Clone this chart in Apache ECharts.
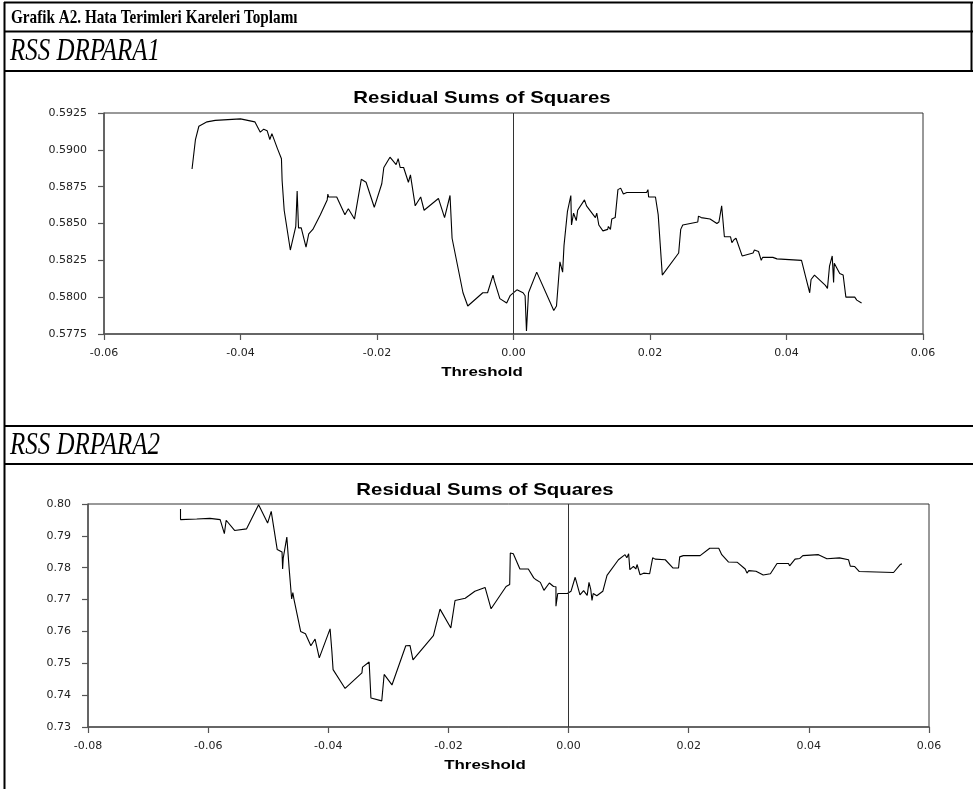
<!DOCTYPE html>
<html>
<head>
<meta charset="utf-8">
<script src="https://cdn.jsdelivr.net/npm/echarts@6/dist/echarts.min.js"></script>
<style>
html,body{margin:0;padding:0;background:#fff;}
#c{width:973px;height:789px;}
</style>
</head>
<body>
<div id="c"></div>
<script>
// ---------- Texts ----------
const pageTitle = 'Grafik A2. Hata Terimleri Kareleri Toplamı';
const panel1Title = 'RSS DRPARA1';
const panel2Title = 'RSS DRPARA2';
const chartTitle = 'Residual Sums of Squares';
const xName = 'Threshold';

// ---------- Tick values ----------
const topXTicks = [-0.06, -0.04, -0.02, 0.00, 0.02, 0.04, 0.06];
const topYTicks = [0.5775, 0.5800, 0.5825, 0.5850, 0.5875, 0.5900, 0.5925];
const botXTicks = [-0.08, -0.06, -0.04, -0.02, 0.00, 0.02, 0.04, 0.06];
const botYTicks = [0.73, 0.74, 0.75, 0.76, 0.77, 0.78, 0.79, 0.80];

// ---------- RSS DRPARA1 ----------
const topX = [-0.0471,-0.0466,-0.0461,-0.0449,-0.0437,-0.0400,-0.0379,-0.0371,-0.0366,-0.0361,
-0.0357,-0.0354,-0.0346,-0.0340,-0.0339,-0.0336,-0.0327,-0.0319,-0.0317,-0.0315,
-0.0311,-0.0304,-0.0300,-0.0294,-0.0283,-0.0273,-0.0272,-0.0271,-0.0259,-0.0247,
-0.0242,-0.0233,-0.0223,-0.0216,-0.0204,-0.0193,-0.0190,-0.0181,-0.0172,-0.0169,
-0.0166,-0.0161,-0.0154,-0.0151,-0.0144,-0.0136,-0.0131,-0.0110,-0.0101,-0.0093,
-0.0090,-0.0074,-0.0067,-0.0045,-0.0038,-0.0030,-0.0028,-0.0020,-0.0010,-0.0005,
0.0005,0.0014,0.0017,0.0019,0.0022,0.0034,0.0059,0.0063,0.0068,0.0072,
0.0074,0.0079,0.0084,0.0085,0.0088,0.0092,0.0094,0.0104,0.0107,0.0120,
0.0122,0.0125,0.0131,0.0138,0.0139,0.0142,0.0144,0.0149,0.0153,0.0157,
0.0161,0.0166,0.0195,0.0197,0.0198,0.0208,0.0212,0.0218,0.0242,0.0243,
0.0245,0.0248,0.0270,0.0271,0.0275,0.0288,0.0298,0.0301,0.0305,0.0309,
0.0318,0.0320,0.0323,0.0326,0.0335,0.0351,0.0353,0.0359,0.0363,0.0365,
0.0380,0.0382,0.0386,0.0422,0.0429,0.0434,0.0436,0.0438,0.0441,0.0457,
0.0460,0.0463,0.0467,0.0469,0.0470,0.0478,0.0483,0.0487,0.0500,0.0503,
0.0510];
const topRSS = [0.5887,0.5907,0.5916,0.5919,0.5920,0.5921,0.5919,0.5912,0.5914,0.5913,
0.5907,0.5911,0.5901,0.5894,0.5879,0.5859,0.5832,0.5848,0.5872,0.5847,
0.5847,0.5834,0.5843,0.5846,0.5856,0.5866,0.5870,0.5868,0.5868,0.5856,
0.5860,0.5853,0.5880,0.5878,0.5861,0.5877,0.5888,0.5895,0.5890,0.5894,
0.5888,0.5888,0.5878,0.5883,0.5862,0.5868,0.5859,0.5867,0.5854,0.5869,
0.5840,0.5803,0.5794,0.5803,0.5803,0.5815,0.5811,0.5799,0.5796,0.5801,
0.5805,0.5803,0.5801,0.5777,0.5803,0.5817,0.5791,0.5794,0.5824,0.5817,
0.5835,0.5858,0.5869,0.5849,0.5857,0.5852,0.5859,0.5866,0.5862,0.5854,
0.5857,0.5849,0.5845,0.5846,0.5848,0.5846,0.5853,0.5854,0.5873,0.5874,
0.5870,0.5871,0.5871,0.5873,0.5868,0.5868,0.5856,0.5815,0.5830,0.5830,
0.5846,0.5849,0.5851,0.5855,0.5854,0.5853,0.5850,0.5851,0.5862,0.5841,
0.5841,0.5837,0.5839,0.5840,0.5828,0.5830,0.5832,0.5831,0.5825,0.5827,
0.5827,0.5828,0.5826,0.5825,0.5812,0.5803,0.5812,0.5811,0.5815,0.5808,
0.5806,0.5821,0.5828,0.5810,0.5823,0.5816,0.5815,0.5800,0.5800,0.5798,
0.5796];

// ---------- RSS DRPARA2 ----------
const botX = [-0.0646,-0.0646,-0.0619,-0.0597,-0.0580,-0.0573,-0.0570,-0.0556,-0.0536,-0.0516,
-0.0501,-0.0495,-0.0485,-0.0477,-0.0476,-0.0475,-0.0469,-0.0465,-0.0461,-0.0459,
-0.0457,-0.0446,-0.0438,-0.0429,-0.0422,-0.0415,-0.0397,-0.0394,-0.0392,-0.0372,
-0.0344,-0.0343,-0.0332,-0.0329,-0.0311,-0.0307,-0.0294,-0.0271,-0.0264,-0.0259,
-0.0225,-0.0214,-0.0196,-0.0189,-0.0172,-0.0156,-0.0139,-0.0129,-0.0104,-0.0098,
-0.0097,-0.0092,-0.0081,-0.0067,-0.0058,-0.0054,-0.0047,-0.0041,-0.0032,-0.0025,
-0.0021,-0.0021,-0.0018,-0.0002,0.0004,0.0011,0.0019,0.0025,0.0031,0.0034,
0.0037,0.0039,0.0041,0.0047,0.0057,0.0064,0.0083,0.0094,0.0097,0.0100,
0.0102,0.0108,0.0112,0.0114,0.0119,0.0125,0.0135,0.0140,0.0144,0.0161,
0.0174,0.0183,0.0185,0.0191,0.0219,0.0235,0.0250,0.0255,0.0266,0.0281,
0.0294,0.0297,0.0300,0.0312,0.0324,0.0336,0.0347,0.0366,0.0368,0.0377,
0.0385,0.0390,0.0416,0.0430,0.0451,0.0466,0.0469,0.0476,0.0484,0.0541,
0.0552,0.0555];
const botRSS = [0.7984,0.7951,0.7953,0.7955,0.7951,0.7907,0.7949,0.7917,0.7922,0.7998,
0.7940,0.7977,0.7857,0.7849,0.7796,0.7830,0.7896,0.7794,0.7702,0.7722,
0.7700,0.7600,0.7593,0.7555,0.7576,0.7517,0.7608,0.7537,0.7480,0.7421,
0.7470,0.7488,0.7504,0.7391,0.7382,0.7465,0.7432,0.7555,0.7556,0.7511,
0.7587,0.7670,0.7611,0.7697,0.7704,0.7726,0.7738,0.7671,0.7741,0.7747,
0.7846,0.7844,0.7796,0.7796,0.7768,0.7762,0.7754,0.7729,0.7752,0.7741,
0.7740,0.7679,0.7719,0.7719,0.7726,0.7770,0.7715,0.7728,0.7713,0.7754,
0.7731,0.7697,0.7719,0.7712,0.7726,0.7776,0.7825,0.7841,0.7831,0.7844,
0.7794,0.7804,0.7796,0.7810,0.7778,0.7783,0.7781,0.7831,0.7827,0.7825,
0.7799,0.7799,0.7834,0.7838,0.7838,0.7861,0.7861,0.7841,0.7818,0.7817,
0.7796,0.7783,0.7791,0.7789,0.7777,0.7781,0.7813,0.7813,0.7806,0.7827,
0.7829,0.7838,0.7841,0.7828,0.7831,0.7825,0.7805,0.7804,0.7788,0.7785,
0.7810,0.7812];

// ---------- Build ----------
const zip = (xs, ys) => xs.map((x, i) => [x, ys[i]]);
const fmt = d => v => (Math.abs(v) < 1e-9 ? 0 : v).toFixed(d);

const LABEL_FONT = 'DejaVu Sans';
const AXIS_COLOR = '#555';

function xAxisCfg(gi, ticks, dec) {
  return {
    type: 'value', gridIndex: gi,
    min: ticks[0], max: ticks[ticks.length - 1], interval: 0.02,
    axisLine: { show: true, onZero: false, lineStyle: { color: AXIS_COLOR, width: 1.5 } },
    axisTick: { show: true, length: 6, inside: false, customValues: ticks, lineStyle: { color: AXIS_COLOR, width: 1.2 } },
    axisLabel: { margin: 14, fontSize: 11, fontFamily: LABEL_FONT, color: '#222', formatter: fmt(dec), customValues: ticks, showMinLabel: true, showMaxLabel: true },
    splitLine: { show: false }
  };
}
function yAxisCfg(gi, ticks, dec, step) {
  return {
    type: 'value', gridIndex: gi,
    min: ticks[0], max: ticks[ticks.length - 1], interval: step,
    axisLine: { show: true, onZero: false, lineStyle: { color: AXIS_COLOR, width: 1.5 } },
    axisTick: { show: true, length: 6, inside: false, customValues: ticks, lineStyle: { color: AXIS_COLOR, width: 1.2 } },
    axisLabel: { margin: 17, fontSize: 11, fontFamily: LABEL_FONT, color: '#222', formatter: fmt(dec), customValues: ticks, showMinLabel: true, showMaxLabel: true },
    splitLine: { show: false }
  };
}
function seriesCfg(idx, data) {
  return {
    type: 'line', xAxisIndex: idx, yAxisIndex: idx, data: data,
    showSymbol: false, symbol: 'none', smooth: false,
    lineStyle: { color: '#000', width: 1.1 },
    silent: true, animation: false,
    markLine: {
      silent: true, symbol: ['none', 'none'], label: { show: false },
      lineStyle: { color: '#333', width: 1, type: 'solid' },
      data: [{ xAxis: 0 }]
    }
  };
}
function hLine(y, x1, x2, w) {
  return { type: 'line', shape: { x1: x1, y1: y, x2: x2, y2: y }, style: { stroke: '#000', lineWidth: w }, silent: true };
}
function vLine(x, y1, y2, w) {
  return { type: 'line', shape: { x1: x, y1: y1, x2: x, y2: y2 }, style: { stroke: '#000', lineWidth: w }, silent: true };
}
function txt(x, y, text, font, align, sx) {
  return { type: 'text', x: x, y: y, scaleX: sx || 1, silent: true,
    style: { text: text, font: font, fill: '#000', align: align, verticalAlign: 'middle' } };
}

const chart = echarts.init(document.getElementById('c'), null, { renderer: 'canvas', width: 973, height: 789 });
chart.setOption({
  backgroundColor: '#fff',
  animation: false,
  grid: [
    { left: 104, top: 113, width: 819, height: 221, show: true, borderColor: '#333', borderWidth: 1, backgroundColor: 'transparent' },
    { left: 88, top: 504, width: 841, height: 223, show: true, borderColor: '#333', borderWidth: 1, backgroundColor: 'transparent' }
  ],
  xAxis: [ xAxisCfg(0, topXTicks, 2), xAxisCfg(1, botXTicks, 2) ],
  yAxis: [ yAxisCfg(0, topYTicks, 4, 0.0025), yAxisCfg(1, botYTicks, 2, 0.01) ],
  series: [ seriesCfg(0, zip(topX, topRSS)), seriesCfg(1, zip(botX, botRSS)) ],
  graphic: [
    // frame
    hLine(2.5, 4, 973, 2),
    vLine(4.5, 2, 789, 2),
    vLine(971.5, 2, 71, 2),
    hLine(31.5, 4, 973, 2),
    hLine(71, 4, 973, 2),
    hLine(426, 4, 973, 2),
    hLine(464, 4, 973, 2),
    // header texts
    txt(11, 18, pageTitle, 'bold 19px "Liberation Serif"', 'left', 0.8),
    txt(10, 52, panel1Title, 'italic 32px "Liberation Serif"', 'left', 0.78),
    txt(10, 446, panel2Title, 'italic 32px "Liberation Serif"', 'left', 0.78),
    // chart titles
    txt(482, 98, chartTitle, 'bold 17px "Liberation Sans"', 'center', 1.2),
    txt(485, 490, chartTitle, 'bold 17px "Liberation Sans"', 'center', 1.2),
    // axis names
    txt(482, 372, xName, 'bold 13px "Liberation Sans"', 'center', 1.3),
    txt(485, 765, xName, 'bold 13px "Liberation Sans"', 'center', 1.3)
  ]
});
</script>
</body>
</html>
